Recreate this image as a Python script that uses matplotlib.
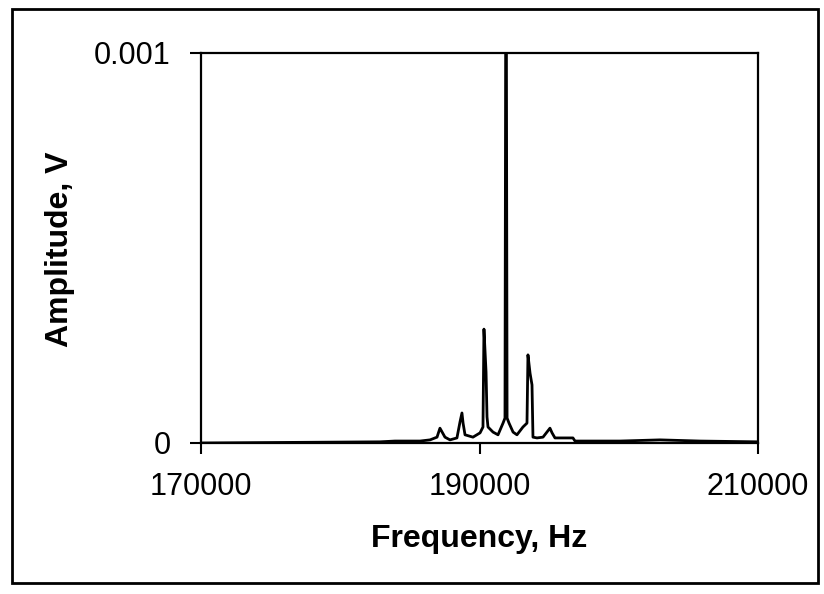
import matplotlib
matplotlib.use("Agg")
import matplotlib.pyplot as plt
from matplotlib.patches import Rectangle

plt.rcParams['font.family'] = ['Liberation Sans', 'DejaVu Sans']

# spectrum (Hz, V)
freq = [170000, 182850, 183930, 185730, 186450, 186950, 187160, 187520, 187880,
        188380, 188600, 188740, 188820, 188960, 189530, 190040, 190250, 190320,
        190470, 190540, 190610, 190970, 191330, 191690, 191830, 191880, 191930,
        191980, 192120, 192410, 192690, 193120, 193410, 193480, 193630, 193770,
        193840, 194130, 194560, 195060, 195210, 195420, 196710, 196860, 200090,
        202960, 205830, 210000]
amp = [0.0, 0.000003, 0.000005, 0.000005, 0.000008, 0.000015, 0.000038, 0.000015,
       0.000008, 0.000013, 0.000054, 0.000077, 0.000051, 0.000021, 0.000015,
       0.000026, 0.000041, 0.000292, 0.000182, 0.000067, 0.000041, 0.000028,
       0.000021, 0.000051, 0.000064, 0.00106, 0.00106, 0.000064, 0.000051,
       0.000028, 0.000021, 0.000041, 0.000051, 0.000226, 0.000179, 0.000149,
       0.000015, 0.000013, 0.000015, 0.000038, 0.000026, 0.000013, 0.000013,
       0.000005, 0.000005, 0.000008, 0.000005, 0.000003]

xticks = [170000, 190000, 210000]
yticks = [0, 0.001]
ytick_labels = ["0", "0.001"]

fig = plt.figure(figsize=(8.24, 5.94), dpi=100)
ax = fig.add_axes([201 / 824, 151 / 594, 557 / 824, 390 / 594])

ax.plot(freq, amp, color='black', lw=2)
ax.set_xlim(170000, 210000)
ax.set_ylim(0, 0.001)
ax.set_xticks(xticks)
ax.set_xticklabels([str(t) for t in xticks])
ax.set_yticks(yticks)
ax.set_yticklabels(ytick_labels)

for s in ax.spines.values():
    s.set_linewidth(1.6)
    s.set_color('black')
ax.tick_params(direction='out', length=8, width=1.5, labelsize=22)
ax.tick_params(axis='x', pad=13)
ax.tick_params(axis='y', pad=14)

fig.text(479.5 / 824, 1 - 539 / 594, "Frequency, Hz", ha='center', va='center',
         fontsize=23, fontweight='bold')
fig.text(60 / 824, 1 - 249 / 594, "Amplitude, V", ha='center', va='center',
         rotation=90, fontsize=23, fontweight='bold')

# outer chart border
fig.patches.append(Rectangle((12 / 824, 11 / 594), 806 / 824, 574 / 594,
                             transform=fig.transFigure, fill=False,
                             edgecolor='black', lw=2))

fig.savefig("out.png", dpi=100)
